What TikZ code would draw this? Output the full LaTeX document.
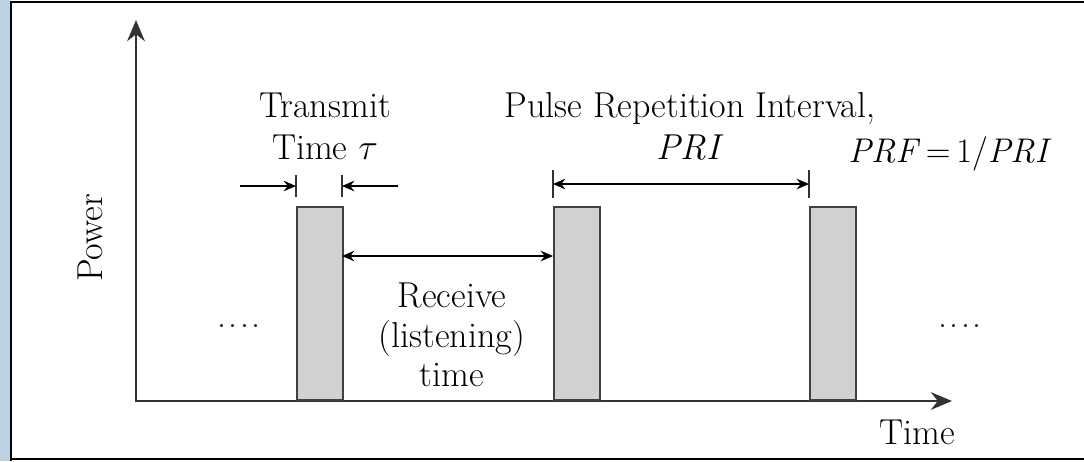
\documentclass[tikz,border=0pt]{standalone}
\usepackage{amsmath}
\usetikzlibrary{arrows.meta}
\definecolor{frameblue}{HTML}{BDD1E5}
\definecolor{pulsegray}{HTML}{D1D1D3}
\tikzset{
    > = {Stealth[length=7pt, width=6pt]},
    axis/.style = {{Stealth[length=12pt, width=10pt]}-{Stealth[length=12pt, width=10pt]},
        line width=1.6pt, draw=black!80},
    pulse/.style = {draw=black!75, fill=pulsegray, line width=1.1pt, inner sep=0pt,
        minimum width=0.92cm, minimum height=3.86cm, anchor=south west},
    dim/.style = {line width=0.9pt},
    tick/.style = {line width=1pt, draw=black!80},
    txt/.style = {font=\fontsize{20.5}{24}\selectfont, align=center, inner sep=0pt}
}

\begin{document}
\begin{tikzpicture}[x=0.02cm, y=-0.02cm]
    \useasboundingbox (0,0) rectangle (1084,461);
    % frame
    \fill[frameblue] (0,0) rectangle (10,461);
    \draw[line width=1.2pt] (11,461) -- (11,2) -- (1084,2);
    \draw[line width=1pt] (11,459) -- (1084,459);

    % axes
    \coordinate (O) at (136,401);
    \coordinate (ytop) at (136,20);
    \coordinate (xend) at (952,401);
    \draw[axis] (ytop) -- (O) -- (xend);

    % pulses
    \node[pulse] (p1) at (296,401) {};
    \node[pulse] (p2) at (553,401) {};
    \node[pulse] (p3) at (809,401) {};

    % transmit time
    \coordinate (ta) at (296,175);
    \coordinate (tb) at (296,197);
    \coordinate (tc) at (342,175);
    \coordinate (td) at (342,197);
    \coordinate (tl) at (240,186);
    \coordinate (tlm) at (296,186);
    \coordinate (tr) at (398,186);
    \coordinate (trm) at (342,186);
    \draw[tick] (ta) -- (tb);
    \draw[tick] (tc) -- (td);
    \draw[dim, ->] (tl) -- (tlm);
    \draw[dim, ->] (tr) -- (trm);

    % receive time
    \coordinate (ra) at (342,256);
    \coordinate (rb) at (553,256);
    \draw[dim, <->] (ra) -- (rb);

    % PRI
    \coordinate (pa) at (553,170);
    \coordinate (pb) at (553,198);
    \coordinate (pc) at (809,170);
    \coordinate (pd) at (809,198);
    \coordinate (pl) at (553,184);
    \coordinate (pr) at (809,184);
    \draw[tick] (pa) -- (pb);
    \draw[tick] (pc) -- (pd);
    \draw[dim, <->] (pl) -- (pr);

    % labels
    \node[txt] (transmit) at (325,126) {Transmit\\Time $\tau$};
    \node[txt] (pri) at (690,126) {Pulse Repetition Interval,\\\textit{PRI}};
    \node[txt, font=\fontsize{19.5}{22}\selectfont] (prf) at (950,154) {\textit{PRF}\,=\,1/\textit{PRI}};
    \node[txt, font=\fontsize{20.5}{22.5}\selectfont] (receive) at (452,335) {Receive\\(listening)\\time};
    \node[txt] (dotsl) at (239,326) {.\kern1.5pt.\kern1.5pt.\kern1.5pt.};
    \node[txt] (dotsr) at (960,326) {.\kern1.5pt.\kern1.5pt.\kern1.5pt.};
    \node[txt, rotate=90] (power) at (90,238) {Power};
    \node[txt] (time) at (917,432) {Time};
\end{tikzpicture}
\end{document}
